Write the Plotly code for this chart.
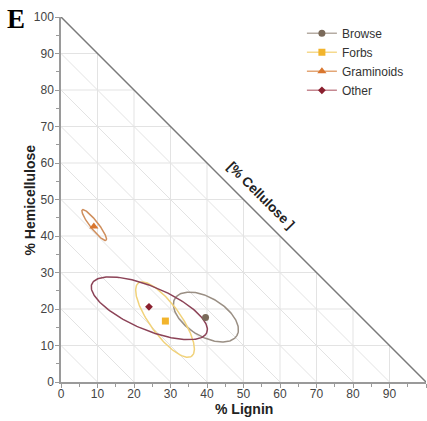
import numpy as np
import plotly.graph_objects as go

# ---- data ----
groups = ["Browse", "Forbs", "Graminoids", "Other"]
center_lignin = [39.6, 28.6, 9.0, 24.1]
center_hemi = [17.7, 16.7, 42.6, 20.6]
# ellipse parameters (semi-major, semi-minor, angle in degrees), ellipse centres
ell_cx = [39.7, 28.5, 9.1, 24.2]
ell_cy = [17.8, 17.1, 43.0, 20.2]
ell_a = [9.9, 12.4, 5.3, 17.1]
ell_b = [5.3, 4.2, 1.1, 5.9]
ell_ang = [-31, -54, -52, -23]
marker_colors = ["#7a6a5a", "#f2b42c", "#d9762e", "#8a1f2e"]
line_colors = ["#9a8f84", "#f1d27a", "#cf8e5c", "#8c4357"]
marker_symbols = ["circle", "square", "triangle-up", "diamond"]
marker_sizes = [7, 7, 8, 6]
legend_line_colors = ["#b5aca3", "#f5d98d", "#e3a676", "#c58891"]

tick_vals = [0, 10, 20, 30, 40, 50, 60, 70, 80, 90, 100]
x_tick_labels = ["0", "10", "20", "30", "40", "50", "60", "70", "80", "90", ""]
y_tick_labels = ["0", "10", "20", "30", "40", "50", "60", "70", "80", "90", "100"]
minor_vals = [5, 15, 25, 35, 45, 55, 65, 75, 85, 95]
diag_vals = [10, 20, 30, 40, 50, 60, 70, 80, 90]

fig = go.Figure()

# grid (clipped to the triangle)
gx, gy = [], []
for v in tick_vals[1:-1]:
    gx += [v, v, None]; gy += [0, 100 - v, None]
    gx += [0, 100 - v, None]; gy += [v, v, None]
fig.add_trace(go.Scatter(x=gx, y=gy, mode="lines", line=dict(color="#e3e3e3", width=1),
                         hoverinfo="skip", showlegend=False))
dx, dy = [], []
for c in diag_vals:
    dx += [0, c, None]; dy += [c, 0, None]
fig.add_trace(go.Scatter(x=dx, y=dy, mode="lines", line=dict(color="#e3e3e3", width=1),
                         hoverinfo="skip", showlegend=False))
# hypotenuse
fig.add_trace(go.Scatter(x=[0, 100], y=[100, 0], mode="lines", line=dict(color="#7a7a7a", width=1.5),
                         hoverinfo="skip", showlegend=False))

t = np.linspace(0, 2 * np.pi, 200)
for i, g in enumerate(groups):
    th = np.deg2rad(ell_ang[i])
    ex = ell_cx[i] + ell_a[i] * np.cos(t) * np.cos(th) - ell_b[i] * np.sin(t) * np.sin(th)
    ey = ell_cy[i] + ell_a[i] * np.cos(t) * np.sin(th) + ell_b[i] * np.sin(t) * np.cos(th)
    fig.add_trace(go.Scatter(x=ex, y=ey, mode="lines", line=dict(color=line_colors[i], width=1.5),
                             hoverinfo="skip", showlegend=False))
for i, g in enumerate(groups):
    fig.add_trace(go.Scatter(x=[center_lignin[i]], y=[center_hemi[i]], mode="lines+markers", name=g,
                             line=dict(color=legend_line_colors[i], width=1.5),
                             marker=dict(color=marker_colors[i], symbol=marker_symbols[i], size=marker_sizes[i])))

axis_common = dict(range=[0, 100], showgrid=False, zeroline=False, showline=True,
                   linecolor="#9a9a9a", linewidth=1.5, ticks="outside", ticklen=4,
                   tickcolor="#9a9a9a", tickwidth=1,
                   tickfont=dict(family="Liberation Sans, Arial", size=12, color="#444444"),
                   tickvals=tick_vals,
                   minor=dict(tickvals=minor_vals, ticks="outside",
                              ticklen=3, tickcolor="#9a9a9a"))

fig.update_layout(
    width=427, height=421,
    margin=dict(l=61, r=1, t=17, b=39),
    paper_bgcolor="white", plot_bgcolor="white",
    xaxis=dict(**axis_common, ticktext=x_tick_labels, ticklabelstandoff=-4),
    yaxis=dict(**axis_common, ticktext=y_tick_labels, ticklabelstandoff=-1),
    legend=dict(x=0.66, y=0.995, xanchor="left", yanchor="top", bgcolor="rgba(0,0,0,0)",
                font=dict(family="Liberation Sans, Arial", size=12, color="#333333"),
                tracegroupgap=0, itemwidth=30),
    annotations=[
        dict(text="<b>E</b>", xref="paper", yref="paper", x=-0.122, y=0.995, showarrow=False,
             xanchor="center", yanchor="middle",
             font=dict(family="Liberation Serif, DejaVu Serif", size=27, color="black")),
        dict(text="<b>% Lignin</b>", xref="paper", yref="paper", x=0.5, y=-0.073, showarrow=False,
             xanchor="center", yanchor="middle",
             font=dict(family="Liberation Sans, Arial", size=14, color="#222222")),
        dict(text="<b>% Hemicellulose</b>", xref="paper", yref="paper", x=-0.085, y=0.5, showarrow=False,
             xanchor="center", yanchor="middle", textangle=-90,
             font=dict(family="Liberation Sans, Arial", size=14, color="#222222")),
        dict(text="<b>[% Cellulose ]</b>", xref="x", yref="y", x=54.8, y=51.2, showarrow=False,
             xanchor="center", yanchor="middle", textangle=45,
             font=dict(family="Liberation Sans, Arial", size=13.5, color="#222222")),
    ],
)

fig.write_html("out.html")
